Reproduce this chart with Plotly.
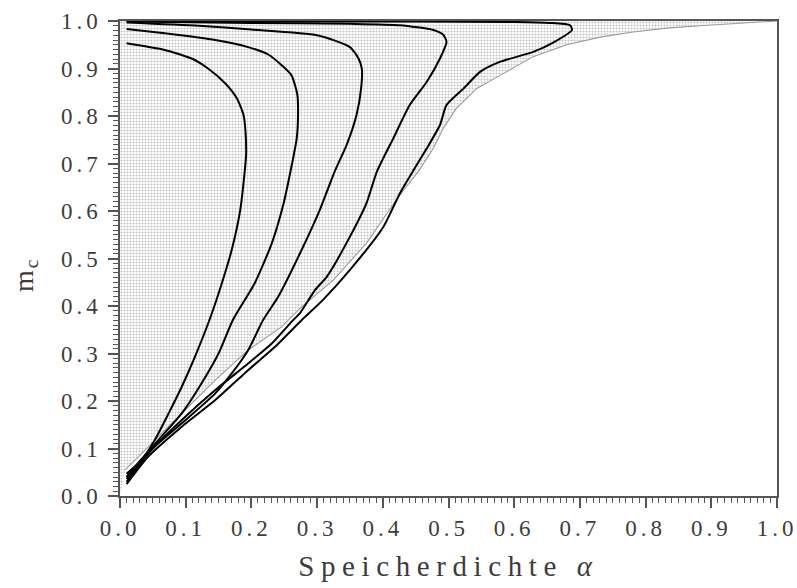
import numpy as np
import plotly.graph_objects as go

# Retrieval curves m_c(alpha): one branch per parameter value, read top -> turning point -> bottom
alpha_a = [0.010, 0.068, 0.109, 0.134, 0.160, 0.178, 0.188, 0.191, 0.192, 0.190, 0.183, 0.170,
           0.155, 0.136, 0.114, 0.094, 0.074, 0.053, 0.033, 0.010]
m_a = [0.953, 0.939, 0.921, 0.900, 0.869, 0.837, 0.802, 0.767, 0.720, 0.686, 0.602, 0.518,
       0.448, 0.370, 0.293, 0.230, 0.174, 0.118, 0.076, 0.047]

alpha_b = [0.010, 0.068, 0.145, 0.195, 0.225, 0.246, 0.261, 0.270, 0.271, 0.269, 0.259, 0.249,
           0.231, 0.205, 0.172, 0.150, 0.124, 0.094, 0.063, 0.033, 0.010]
m_b = [0.983, 0.974, 0.960, 0.945, 0.930, 0.907, 0.886, 0.844, 0.802, 0.753, 0.680, 0.616,
       0.532, 0.448, 0.371, 0.300, 0.237, 0.174, 0.125, 0.078, 0.040]

alpha_c = [0.010, 0.120, 0.200, 0.300, 0.350, 0.363, 0.368, 0.367, 0.360, 0.345, 0.327, 0.304,
           0.274, 0.241, 0.218, 0.195, 0.170, 0.145, 0.094, 0.053, 0.010]
m_c = [0.997, 0.990, 0.982, 0.970, 0.945, 0.921, 0.900, 0.858, 0.802, 0.739, 0.684, 0.602,
       0.511, 0.420, 0.371, 0.307, 0.258, 0.216, 0.153, 0.104, 0.036]

alpha_d = [0.010, 0.200, 0.350, 0.426, 0.477, 0.492, 0.497, 0.487, 0.467, 0.441, 0.416, 0.391,
           0.375, 0.350, 0.315, 0.297, 0.274, 0.264, 0.231, 0.195, 0.145, 0.094, 0.043, 0.010]
m_d = [0.999, 0.996, 0.994, 0.991, 0.981, 0.971, 0.956, 0.921, 0.872, 0.823, 0.753, 0.683,
       0.616, 0.546, 0.462, 0.434, 0.385, 0.371, 0.321, 0.279, 0.223, 0.160, 0.090, 0.030]

alpha_e = [0.010, 0.300, 0.600, 0.654, 0.685, 0.688, 0.660, 0.629, 0.578, 0.548, 0.523, 0.497,
           0.487, 0.467, 0.446, 0.426, 0.401, 0.350, 0.309, 0.277, 0.236, 0.195, 0.145, 0.094,
           0.043, 0.010]
m_e = [1.000, 0.999, 0.998, 0.996, 0.991, 0.981, 0.955, 0.935, 0.914, 0.893, 0.858, 0.823,
       0.781, 0.732, 0.684, 0.637, 0.567, 0.476, 0.413, 0.371, 0.314, 0.265, 0.202, 0.146,
       0.083, 0.025]

# Boundary of the shaded region
alpha_bound = [0.008, 0.043, 0.094, 0.145, 0.195, 0.246, 0.274, 0.325, 0.375, 0.424, 0.454,
               0.477, 0.492, 0.512, 0.543, 0.578, 0.629, 0.680, 0.731, 0.781, 0.832, 0.883,
               0.933, 0.974, 1.000]
m_bound = [0.055, 0.104, 0.174, 0.244, 0.307, 0.356, 0.395, 0.455, 0.532, 0.630, 0.683,
           0.732, 0.774, 0.816, 0.858, 0.885, 0.925, 0.950, 0.966, 0.977, 0.985, 0.990,
           0.994, 0.997, 1.000]

tick_vals = [round(0.1 * i, 1) for i in range(11)]
tick_text = [f"{v:.1f}" for v in tick_vals]

SERIF = "Liberation Serif, Times New Roman, serif"
AXIS_GREY = "#555555"
TEXT_GREY = "#3c3c3c"

fig = go.Figure()

# dotted shaded region above/left of the boundary
fig.add_trace(go.Scatter(
    x=[0.0] + alpha_bound + [0.0],
    y=[0.0] + m_bound + [1.0],
    mode="lines", fill="toself", line=dict(width=0),
    fillcolor="rgba(0,0,0,0)",
    fillpattern=dict(shape=".", size=3, solidity=0.38, fgcolor="#858585", bgcolor="white"),
    hoverinfo="skip", showlegend=False,
))

# thin grey boundary curve
fig.add_trace(go.Scatter(
    x=alpha_bound, y=m_bound, mode="lines",
    line=dict(color="#9a9a9a", width=1.1), showlegend=False,
))

for xs, ys in [(alpha_a, m_a), (alpha_b, m_b), (alpha_c, m_c), (alpha_d, m_d), (alpha_e, m_e)]:
    fig.add_trace(go.Scatter(
        x=xs, y=ys, mode="lines",
        line=dict(color="black", width=2, shape="spline", smoothing=0.6),
        showlegend=False,
    ))

axis_common = dict(
    range=[0, 1], tickmode="array", tickvals=tick_vals, ticktext=tick_text,
    ticks="outside", ticklen=10, tickwidth=1.5, tickcolor=AXIS_GREY,
    minor=dict(dtick=0.01, ticks="outside", ticklen=5, tickwidth=1.2, tickcolor=AXIS_GREY),
    showline=True, linecolor=AXIS_GREY, linewidth=1.5, mirror=True,
    showgrid=False, zeroline=False, automargin=False,
    tickfont=dict(family=SERIF, size=23, color=TEXT_GREY),
)

fig.update_layout(
    width=797, height=588, autosize=False,
    margin=dict(l=120, r=20, t=21, b=92),
    paper_bgcolor="white", plot_bgcolor="white",
    xaxis=dict(**axis_common, ticklabelstandoff=1),
    yaxis=dict(**axis_common, ticklabelstandoff=2),
    annotations=[
        dict(text="Speicherdichte <i>α</i>", x=0.5, y=-0.147, xref="paper", yref="paper",
             xanchor="center", yanchor="middle", showarrow=False,
             font=dict(family=SERIF, size=29, color=TEXT_GREY)),
        dict(text="m<sub>c</sub>", x=-0.145, y=0.467, xref="paper", yref="paper",
             xanchor="center", yanchor="middle", showarrow=False, textangle=-90,
             font=dict(family=SERIF, size=28, color=TEXT_GREY)),
    ],
)

# widen the character spacing of tick labels and titles
spacing_js = """
var gd = document.getElementById('{plot_id}');
function widen() {
  gd.querySelectorAll('.xtick text, .ytick text').forEach(function (t) {
    t.style.letterSpacing = '4px';
  });
  var ann = gd.querySelectorAll('.annotation-text');
  if (ann.length > 0) { ann[0].style.letterSpacing = '6.6px'; }
  if (ann.length > 1) { ann[1].style.letterSpacing = '2px'; }
}
widen();
gd.on('plotly_afterplot', widen);
"""

fig.write_html("out.html", post_script=spacing_js)
